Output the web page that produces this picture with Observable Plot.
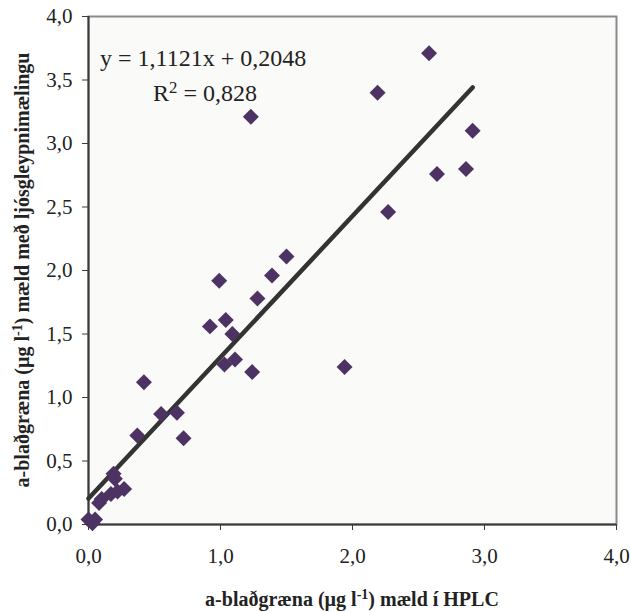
<!DOCTYPE html>
<html>
<head>
<meta charset="utf-8">
<script src="https://cdn.jsdelivr.net/npm/d3@7"></script>
<script src="https://cdn.jsdelivr.net/npm/@observablehq/plot@0.6"></script>
<style>
  html, body { margin: 0; padding: 0; background: #ffffff; }
  #chart { width: 631px; height: 612px; }
  svg text { font-family: "Liberation Serif", "Times New Roman", serif; }
</style>
</head>
<body>
<div id="chart"></div>
<script>
// Data
const hplc = [2.58, 2.19, 1.23, 2.91, 2.64, 2.86, 2.27, 1.50, 1.39, 0.99, 1.28, 0.92, 1.04, 1.09, 1.03, 1.11, 1.24, 1.94, 0.42, 0.55, 0.67, 0.37, 0.72, 0.19, 0.20, 0.27, 0.22, 0.17, 0.10, 0.08, 0.00, 0.05, 0.03];
const spectro = [3.71, 3.40, 3.21, 3.10, 2.76, 2.80, 2.46, 2.11, 1.96, 1.92, 1.78, 1.56, 1.61, 1.50, 1.26, 1.30, 1.20, 1.24, 1.12, 0.87, 0.88, 0.70, 0.68, 0.40, 0.36, 0.28, 0.26, 0.24, 0.20, 0.17, 0.04, 0.04, 0.01];
const slope = 1.1121;
const intercept = 0.2048;
const rSquared = "0,828";
const xTicks = [0, 1, 2, 3, 4];
const yTicks = [0, 0.5, 1, 1.5, 2, 2.5, 3, 3.5, 4];

const points = hplc.map((x, i) => ({x, y: spectro[i]}));
const xMax = d3.max(hplc);
const trend = [0, xMax].map(x => ({x, y: slope * x + intercept}));
const fmt = d => d3.format(".1f")(d).replace(".", ",");

const plot = Plot.plot({
  width: 631,
  height: 612,
  marginLeft: 88,
  marginRight: 15,
  marginTop: 16,
  marginBottom: 88,
  style: {background: "#ffffff", fontFamily: "Liberation Serif", fontSize: "21px", color: "#222"},
  x: {domain: [0, 4], ticks: xTicks, tickFormat: fmt, label: null},
  y: {domain: [0, 4], ticks: yTicks, tickFormat: fmt, label: null},
  marks: [
    Plot.frame({fill: "#fafaf8", stroke: "#8a8a8a", strokeWidth: 2}),
    Plot.ruleX([0], {stroke: "#3a3a3a", strokeWidth: 2}),
    Plot.ruleY([0], {stroke: "#3a3a3a", strokeWidth: 2}),
    Plot.line(trend, {x: "x", y: "y", stroke: "#333333", strokeWidth: 4.5}),
    Plot.dot(points, {x: "x", y: "y", symbol: "diamond2", r: 7.2, fill: "#4d3363", stroke: "none"}),
    Plot.axisX({ticks: xTicks, tickFormat: fmt, tickSize: 6, tickPadding: 18, stroke: "#3a3a3a"}),
    Plot.axisY({ticks: yTicks, tickFormat: fmt, tickSize: 6, tickPadding: 10, stroke: "#3a3a3a"})
  ]
});

document.getElementById("chart").appendChild(plot);

const svg = d3.select(plot);
const sup = (sel, txt) => sel.append("tspan").attr("dy", "-0.5em").attr("font-size", "0.7em").text(txt);

// Regression equation
svg.append("text")
  .attr("x", 100).attr("y", 66)
  .attr("text-anchor", "start")
  .attr("font-size", 24).attr("fill", "#222")
  .text(`y = ${String(slope).replace(".", ",")}x + ${String(intercept).replace(".", ",")}`);
const r2 = svg.append("text").attr("x", 153).attr("y", 101)
  .attr("text-anchor", "start").attr("font-size", 24).attr("fill", "#222");
r2.append("tspan").text("R");
sup(r2, "2");
r2.append("tspan").attr("dy", "0.35em").text(` = ${rSquared}`);

// X axis title
const xt = svg.append("text")
  .attr("x", (88 + 616) / 2).attr("y", 606)
  .attr("text-anchor", "middle").attr("font-weight", "bold").attr("font-size", 20).attr("fill", "#222");
xt.append("tspan").text("a-blaðgræna (µg l");
sup(xt, "-1");
xt.append("tspan").attr("dy", "0.35em").text(") mæld í HPLC");

// Y axis title
const yt = svg.append("text")
  .attr("transform", `translate(29, ${(16 + 524) / 2}) rotate(-90)`)
  .attr("text-anchor", "middle").attr("font-weight", "bold").attr("font-size", 20).attr("fill", "#222");
yt.append("tspan").text("a-blaðgræna (µg l");
sup(yt, "-1");
yt.append("tspan").attr("dy", "0.35em").text(") mæld með ljósgleypnimælingu");
</script>
</body>
</html>
